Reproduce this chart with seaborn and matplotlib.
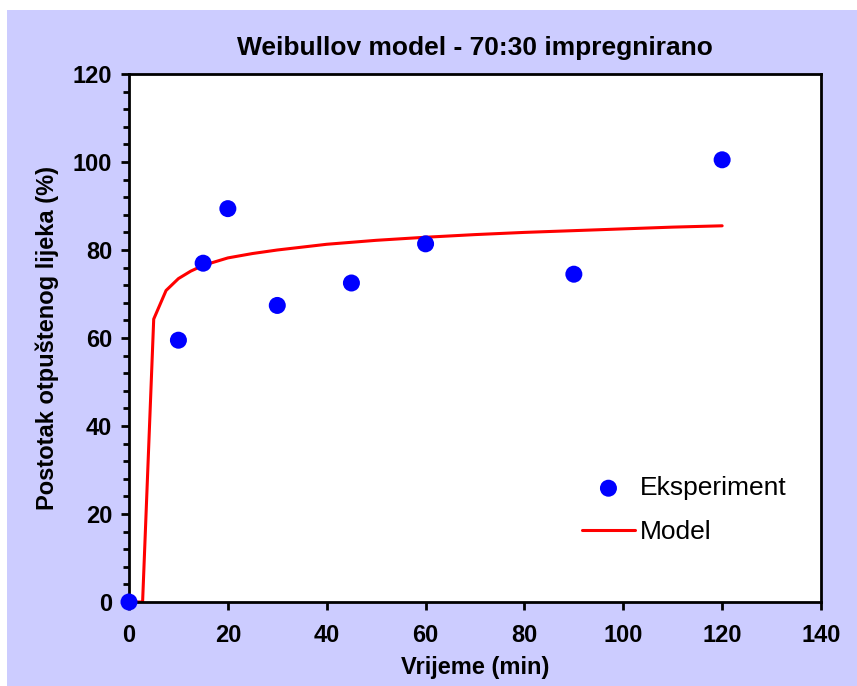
# %%
# importing Libraries
import pandas as pd
import matplotlib.pyplot as plt
import seaborn as sns
from matplotlib.patches import Rectangle
from matplotlib.ticker import MultipleLocator

# %%
# experimental points and the Weibull model curve (values read from the chart)
time_exp = [0, 10, 15, 20, 30, 45, 60, 90, 120]
release_exp = [0, 59.5, 77.0, 89.4, 67.4, 72.5, 81.4, 74.5, 100.5]

time_model = [0, 2.75, 5, 7.5, 10, 12.5, 15, 20, 25, 30, 40, 50, 60, 70, 80, 90, 100, 110, 120]
release_model = [0, 0, 64.3, 70.8, 73.5, 75.2, 76.5, 78.2, 79.2, 80.0, 81.3, 82.2, 82.9,
                 83.5, 84.0, 84.4, 84.8, 85.2, 85.5]

exp_df = pd.DataFrame({"t": time_exp, "r": release_exp})
model_df = pd.DataFrame({"t": time_model, "r": release_model})

# %%
sns.set_style("ticks")
plt.rcParams["font.family"] = ["Liberation Sans", "DejaVu Sans"]
plt.rcParams["text.color"] = "black"
plt.rcParams["axes.labelcolor"] = "black"
plt.rcParams["xtick.color"] = "black"
plt.rcParams["ytick.color"] = "black"

fig = plt.figure(figsize=(8.57, 6.86), dpi=100, facecolor="white")
fig.patches.append(Rectangle((7 / 857, 0), 1 - 7 / 857, 676 / 686, transform=fig.transFigure,
                             facecolor="#CCCCFF", edgecolor="none", zorder=-1))
ax = fig.add_axes([129 / 857, 84 / 686, 692 / 857, 528 / 686])
ax.set_facecolor("white")

sns.scatterplot(data=exp_df, x="t", y="r", ax=ax, color="#0000FF", s=150,
                edgecolor="none", label="Eksperiment", zorder=3, clip_on=False)
sns.lineplot(data=model_df, x="t", y="r", ax=ax, color="#FF0000", linewidth=2.2,
             label="Model", zorder=2)

ax.set_xlim(0, 140)
ax.set_ylim(0, 120)
ax.xaxis.set_major_locator(MultipleLocator(20))
ax.yaxis.set_major_locator(MultipleLocator(20))
ax.yaxis.set_minor_locator(MultipleLocator(4))

for s in ax.spines.values():
    s.set_linewidth(2)
    s.set_color("black")
ax.tick_params(axis="both", which="major", direction="out", length=6, width=2,
               labelsize=17)
ax.tick_params(axis="x", which="major", pad=10)
ax.tick_params(axis="y", which="major", pad=6)
ax.tick_params(axis="y", which="minor", direction="out", length=4, width=2)
for lab in ax.get_xticklabels() + ax.get_yticklabels():
    lab.set_fontweight("bold")

ax.set_xlabel("Vrijeme (min)", fontsize=17, fontweight="bold", labelpad=6)
ax.set_ylabel("Postotak otpuštenog lijeka (%)", fontsize=17, fontweight="bold", labelpad=10)
ax.set_title("Weibullov model - 70:30 impregnirano", fontsize=19, fontweight="bold", pad=14)

ax.legend(loc="lower right", bbox_to_anchor=(0.985, 0.064), frameon=False, fontsize=19,
          handlelength=2.0, handletextpad=0.2, labelspacing=0.77)

fig.savefig("out.png", dpi=100, facecolor=fig.get_facecolor())
